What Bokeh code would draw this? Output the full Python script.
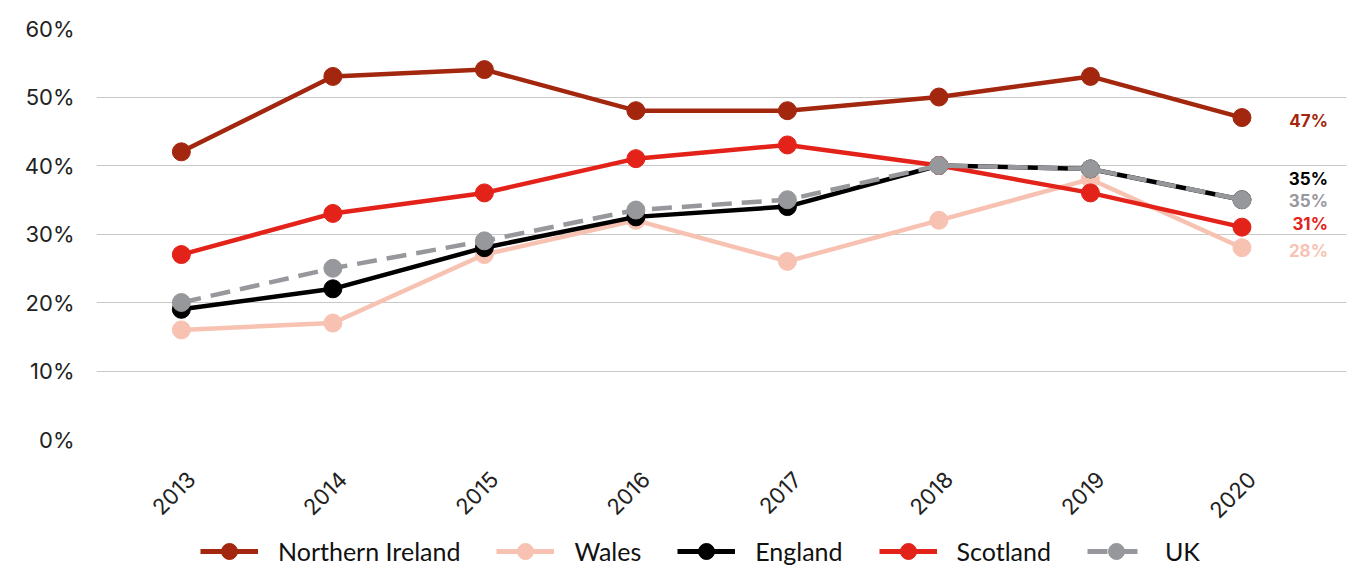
from bokeh.plotting import figure
from bokeh.models import (ColumnDataSource, FixedTicker, Legend, LegendItem, Range1d,
                          NumeralTickFormatter, LinearAxis)
from bokeh.layouts import column
from bokeh.core.properties import value
from bokeh.embed import file_html
from bokeh.resources import INLINE
import math

years = [2013, 2014, 2015, 2016, 2017, 2018, 2019, 2020]
y_ticks = [0, 10, 20, 30, 40, 50, 60]

northern_ireland = [42, 53, 54, 48, 48, 50, 53, 47]
wales = [16, 17, 27, 32, 26, 32, 38, 28]
england = [19, 22, 28, 32.5, 34, 40, 39.5, 35]
scotland = [27, 33, 36, 41, 43, 40, 36, 31]
uk = [20, 25, 29, 33.5, 35, 40, 39.5, 35]

series = [
    ("Northern Ireland", northern_ireland, "#A3260E", "solid", 3),
    ("Wales", wales, "#F7C2B2", "solid", 3),
    ("England", england, "#000000", "solid", -21),
    ("Scotland", scotland, "#E3221A", "solid", -3),
    ("UK", uk, "#97989C", "dashed", 1),
]

x0, x1 = 2012.44, 2020.69
shift = 0.066
p = figure(width=1363, height=530, output_backend="svg", toolbar_location=None,
           x_range=Range1d(x0, x1), y_range=Range1d(0, 60), x_axis_location=None,
           min_border_left=96, min_border_right=17, min_border_top=28, min_border_bottom=91)
p.outline_line_color = None
p.background_fill_color = "white"
p.border_fill_color = "white"
p.extra_x_ranges = {"lab": Range1d(x0 - shift, x1 - shift)}

lg = figure(width=1363, height=41, output_backend="svg", toolbar_location=None,
            x_range=Range1d(0, 1), y_range=Range1d(0, 1), x_axis_location=None,
            y_axis_location=None, min_border=0)
lg.outline_line_color = None
lg.grid.visible = False

items = []
for name, vals, color, dash, off in series:
    src = ColumnDataSource(dict(x=years, y=vals))
    dash_style = "20 10" if dash == "dashed" else "solid"
    p.line("x", "y", source=src, line_color=color, line_width=4.5, line_dash=dash_style)
    p.scatter("x", "y", source=src, size=18, fill_color=color, line_color=color)
    p.text(x=[years[-1]], y=[vals[-1]], text=[f"{round(vals[-1])}%"],
           x_offset=86, y_offset=off, text_align="right", text_baseline="middle",
           text_color=color, text_font=value("Inter"), text_font_size="17px",
           text_font_style="bold")
    # off-screen stand-ins so that the legend below has glyphs to draw
    l1 = lg.line(x=[-10, -9], y=[-10, -10], line_color=color, line_width=5, line_dash=dash_style)
    l2 = lg.scatter(x=[-10], y=[-10], fill_color=color, line_color=color)
    items.append(LegendItem(label=name, renderers=[l1, l2]))

xaxis = LinearAxis(x_range_name="lab", ticker=FixedTicker(ticks=years))
xaxis.major_label_orientation = math.pi / 4
p.add_layout(xaxis, "below")
p.yaxis.ticker = FixedTicker(ticks=y_ticks)
p.yaxis.formatter = NumeralTickFormatter(format="0")
p.yaxis.major_label_overrides = {t: f"{t}%" for t in y_ticks}
for ax in (xaxis, p.yaxis[0]):
    ax.axis_line_color = None
    ax.major_tick_line_color = None
    ax.minor_tick_line_color = None
    ax.major_label_text_font = "Inter"
    ax.major_label_text_font_size = "22px"
    ax.major_label_text_color = "#222222"
p.yaxis.major_label_standoff = 16
xaxis.major_label_standoff = 30

p.xgrid.grid_line_color = None
p.ygrid.grid_line_color = "#C8C8C8"
p.ygrid.grid_line_width = 1.2

legend = Legend(items=items, orientation="horizontal", location=(104, 0),
                label_text_font="Lato", label_text_font_size="25px",
                label_text_color="#111111", glyph_width=58, glyph_height=40,
                label_height=40, spacing=36, label_standoff=20, border_line_color=None,
                background_fill_alpha=0, padding=0, margin=0)
lg.add_layout(legend, "center")

layout = column(p, lg, spacing=0)
open("out.html", "w").write(file_html(layout, INLINE))
